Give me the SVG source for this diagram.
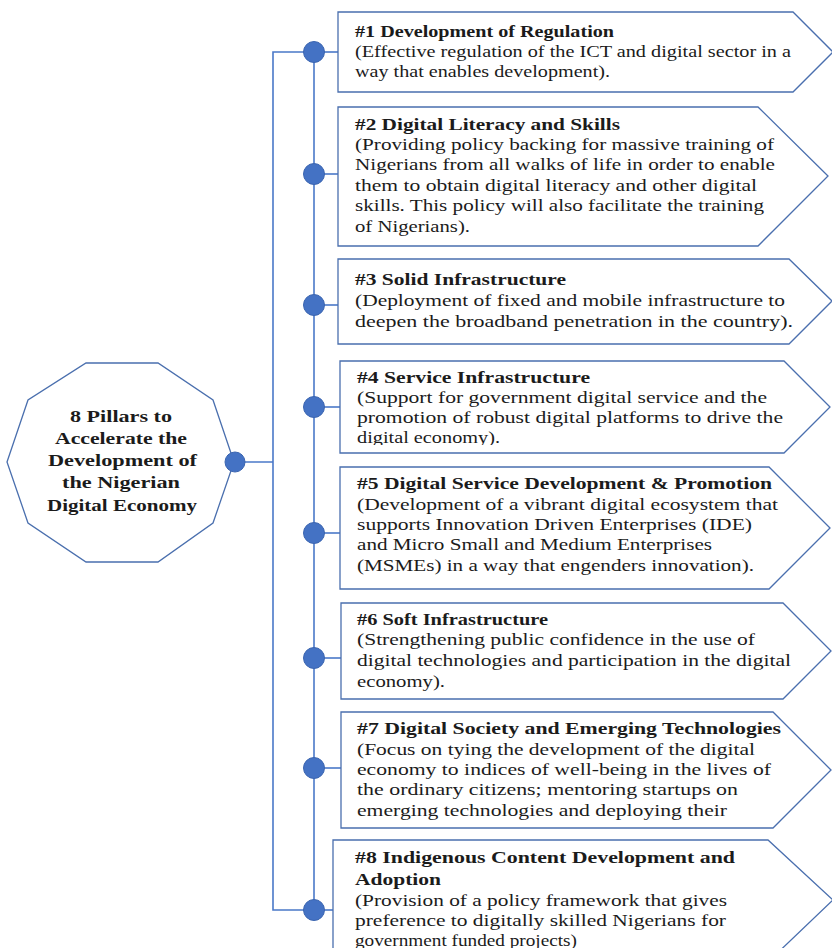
<svg xmlns="http://www.w3.org/2000/svg" width="832" height="948" viewBox="0 0 832 948">
  <style>
    .box { fill: #ffffff; stroke: #4a6fae; stroke-width: 1.3; }
    .hub { fill: #ffffff; stroke: #4a6fae; stroke-width: 1.3; }
    .wire { fill: none; stroke: #4a78c8; stroke-width: 1.6; }
    .dot { fill: #4472c4; stroke: #3b65b0; stroke-width: 1; }
    text { font-family: "Liberation Serif", "Times New Roman", serif; font-size: 17px; fill: #1b1b1b; }
    .t { font-weight: bold; }
    .hubtxt { font-weight: bold; text-anchor: start; }
  </style>
  <defs>
    <clipPath id="clip4"><rect x="340" y="361" width="450" height="84"/></clipPath>
    <clipPath id="clip7"><rect x="341" y="712" width="440" height="108"/></clipPath>
    <clipPath id="clip8"><rect x="333" y="840" width="440" height="108"/></clipPath>
  </defs>

  <rect x="0" y="0" width="832" height="948" fill="#ffffff"/>

  <!-- connectors -->
  <g id="connectors">
    <polyline class="wire" points="314,52 273,52 273,910 314,910"/>
    <line class="wire" x1="235" y1="462" x2="273" y2="462"/>
    <line class="wire" x1="314" y1="52" x2="314" y2="910"/>
    <line class="wire" x1="314" y1="52" x2="338" y2="52"/>
    <line class="wire" x1="314" y1="174" x2="338" y2="174"/>
    <line class="wire" x1="314" y1="305" x2="338" y2="305"/>
    <line class="wire" x1="314" y1="407" x2="340" y2="407"/>
    <line class="wire" x1="314" y1="533" x2="340" y2="533"/>
    <line class="wire" x1="314" y1="658" x2="341" y2="658"/>
    <line class="wire" x1="314" y1="768" x2="341" y2="768"/>
    <line class="wire" x1="314" y1="910" x2="333" y2="910"/>
  </g>

  <!-- central decagon -->
  <g id="hub">
    <polygon class="hub" points="86,363 158,363 213,400 234,462 213,523 158,562 86,562 28,523 7,462 28,400"/>
    <text class="hubtxt" x="70" y="422" textLength="102" lengthAdjust="spacingAndGlyphs">8 Pillars to</text>
    <text class="hubtxt" x="55" y="444" textLength="132" lengthAdjust="spacingAndGlyphs">Accelerate the</text>
    <text class="hubtxt" x="48" y="466" textLength="149" lengthAdjust="spacingAndGlyphs">Development of</text>
    <text class="hubtxt" x="62" y="488" textLength="118" lengthAdjust="spacingAndGlyphs">the Nigerian</text>
    <text class="hubtxt" x="47" y="511" textLength="150" lengthAdjust="spacingAndGlyphs">Digital Economy</text>
    <circle class="dot" cx="235" cy="462" r="10"/>
  </g>

  <!-- pillar 1 -->
  <g id="pillar1">
    <path class="box" d="M338,12 H793 L833,52 L793,92 H338 Z"/>
    <text class="t" x="355" y="37" textLength="259" lengthAdjust="spacingAndGlyphs">#1 Development of Regulation</text>
    <text x="355" y="57" textLength="436" lengthAdjust="spacingAndGlyphs">(Effective regulation of the ICT and digital sector in a</text>
    <text x="355" y="77" textLength="255" lengthAdjust="spacingAndGlyphs">way that enables development).</text>
    <circle class="dot" cx="314" cy="52" r="10.5"/>
  </g>

  <!-- pillar 2 -->
  <g id="pillar2">
    <path class="box" d="M338,107 H758 L828,176 L758,246 H338 Z"/>
    <text class="t" x="355" y="130" textLength="265" lengthAdjust="spacingAndGlyphs">#2 Digital Literacy and Skills</text>
    <text x="355" y="150" textLength="419" lengthAdjust="spacingAndGlyphs">(Providing policy backing for massive training of</text>
    <text x="355" y="170" textLength="420" lengthAdjust="spacingAndGlyphs">Nigerians from all walks of life in order to enable</text>
    <text x="355" y="191" textLength="402" lengthAdjust="spacingAndGlyphs">them to obtain digital literacy and other digital</text>
    <text x="355" y="211" textLength="409" lengthAdjust="spacingAndGlyphs">skills. This policy will also facilitate the training</text>
    <text x="355" y="232" textLength="115" lengthAdjust="spacingAndGlyphs">of Nigerians).</text>
    <circle class="dot" cx="314" cy="174" r="10.5"/>
  </g>

  <!-- pillar 3 -->
  <g id="pillar3">
    <path class="box" d="M338,259 H789 L832,301 L789,344 H338 Z"/>
    <text class="t" x="355" y="285" textLength="211" lengthAdjust="spacingAndGlyphs">#3 Solid Infrastructure</text>
    <text x="355" y="306" textLength="430" lengthAdjust="spacingAndGlyphs">(Deployment of fixed and mobile infrastructure to</text>
    <text x="355" y="327" textLength="438" lengthAdjust="spacingAndGlyphs">deepen the broadband penetration in the country).</text>
    <circle class="dot" cx="314" cy="305" r="10.5"/>
  </g>

  <!-- pillar 4 -->
  <g id="pillar4">
    <path class="box" d="M340,361 H784 L830,407 L784,453 H340 Z"/>
    <g clip-path="url(#clip4)">
      <text class="t" x="357" y="383" textLength="233" lengthAdjust="spacingAndGlyphs">#4 Service Infrastructure</text>
      <text x="357" y="403" textLength="410" lengthAdjust="spacingAndGlyphs">(Support for government digital service and the</text>
      <text x="357" y="423" textLength="426" lengthAdjust="spacingAndGlyphs">promotion of robust digital platforms to drive the</text>
      <text x="357" y="443" textLength="143" lengthAdjust="spacingAndGlyphs">digital economy).</text>
    </g>
    <circle class="dot" cx="314" cy="407" r="10.5"/>
  </g>

  <!-- pillar 5 -->
  <g id="pillar5">
    <path class="box" d="M340,467 H769 L830,528 L769,589 H340 Z"/>
    <text class="t" x="357" y="489" textLength="415" lengthAdjust="spacingAndGlyphs">#5 Digital Service Development &amp; Promotion</text>
    <text x="357" y="510" textLength="421" lengthAdjust="spacingAndGlyphs">(Development of a vibrant digital ecosystem that</text>
    <text x="357" y="530" textLength="395" lengthAdjust="spacingAndGlyphs">supports Innovation Driven Enterprises (IDE)</text>
    <text x="357" y="550" textLength="355" lengthAdjust="spacingAndGlyphs">and Micro Small and Medium Enterprises</text>
    <text x="357" y="571" textLength="397" lengthAdjust="spacingAndGlyphs">(MSMEs) in a way that engenders innovation).</text>
    <circle class="dot" cx="314" cy="533" r="10.5"/>
  </g>

  <!-- pillar 6 -->
  <g id="pillar6">
    <path class="box" d="M341,603 H783 L831,651 L783,699 H341 Z"/>
    <text class="t" x="357" y="625" textLength="191" lengthAdjust="spacingAndGlyphs">#6 Soft Infrastructure</text>
    <text x="357" y="645" textLength="398" lengthAdjust="spacingAndGlyphs">(Strengthening public confidence in the use of</text>
    <text x="357" y="666" textLength="434" lengthAdjust="spacingAndGlyphs">digital technologies and participation in the digital</text>
    <text x="357" y="687" textLength="88" lengthAdjust="spacingAndGlyphs">economy).</text>
    <circle class="dot" cx="314" cy="658" r="10.5"/>
  </g>

  <!-- pillar 7 -->
  <g id="pillar7">
    <path class="box" d="M341,712 H773 L831,770 L773,828 H341 Z"/>
    <g clip-path="url(#clip7)">
      <text class="t" x="357" y="734" textLength="424" lengthAdjust="spacingAndGlyphs">#7 Digital Society and Emerging Technologies</text>
      <text x="357" y="755" textLength="398" lengthAdjust="spacingAndGlyphs">(Focus on tying the development of the digital</text>
      <text x="357" y="775" textLength="414" lengthAdjust="spacingAndGlyphs">economy to indices of well-being in the lives of</text>
      <text x="357" y="795" textLength="381" lengthAdjust="spacingAndGlyphs">the ordinary citizens; mentoring startups on</text>
      <text x="357" y="816" textLength="370" lengthAdjust="spacingAndGlyphs">emerging technologies and deploying their</text>
    </g>
    <circle class="dot" cx="314" cy="768" r="10.5"/>
  </g>

  <!-- pillar 8 -->
  <g id="pillar8">
    <path class="box" d="M333,840 H768 L833,900 L768,962 H333 Z"/>
    <g clip-path="url(#clip8)">
      <text class="t" x="355" y="863" textLength="380" lengthAdjust="spacingAndGlyphs">#8 Indigenous Content Development and</text>
      <text class="t" x="355" y="885" textLength="86" lengthAdjust="spacingAndGlyphs">Adoption</text>
      <text x="355" y="906" textLength="372" lengthAdjust="spacingAndGlyphs">(Provision of a policy framework that gives</text>
      <text x="355" y="926" textLength="371" lengthAdjust="spacingAndGlyphs">preference to digitally skilled Nigerians for</text>
      <text x="355" y="946" textLength="222" lengthAdjust="spacingAndGlyphs">government funded projects)</text>
    </g>
    <circle class="dot" cx="314" cy="910" r="10.5"/>
  </g>
</svg>
